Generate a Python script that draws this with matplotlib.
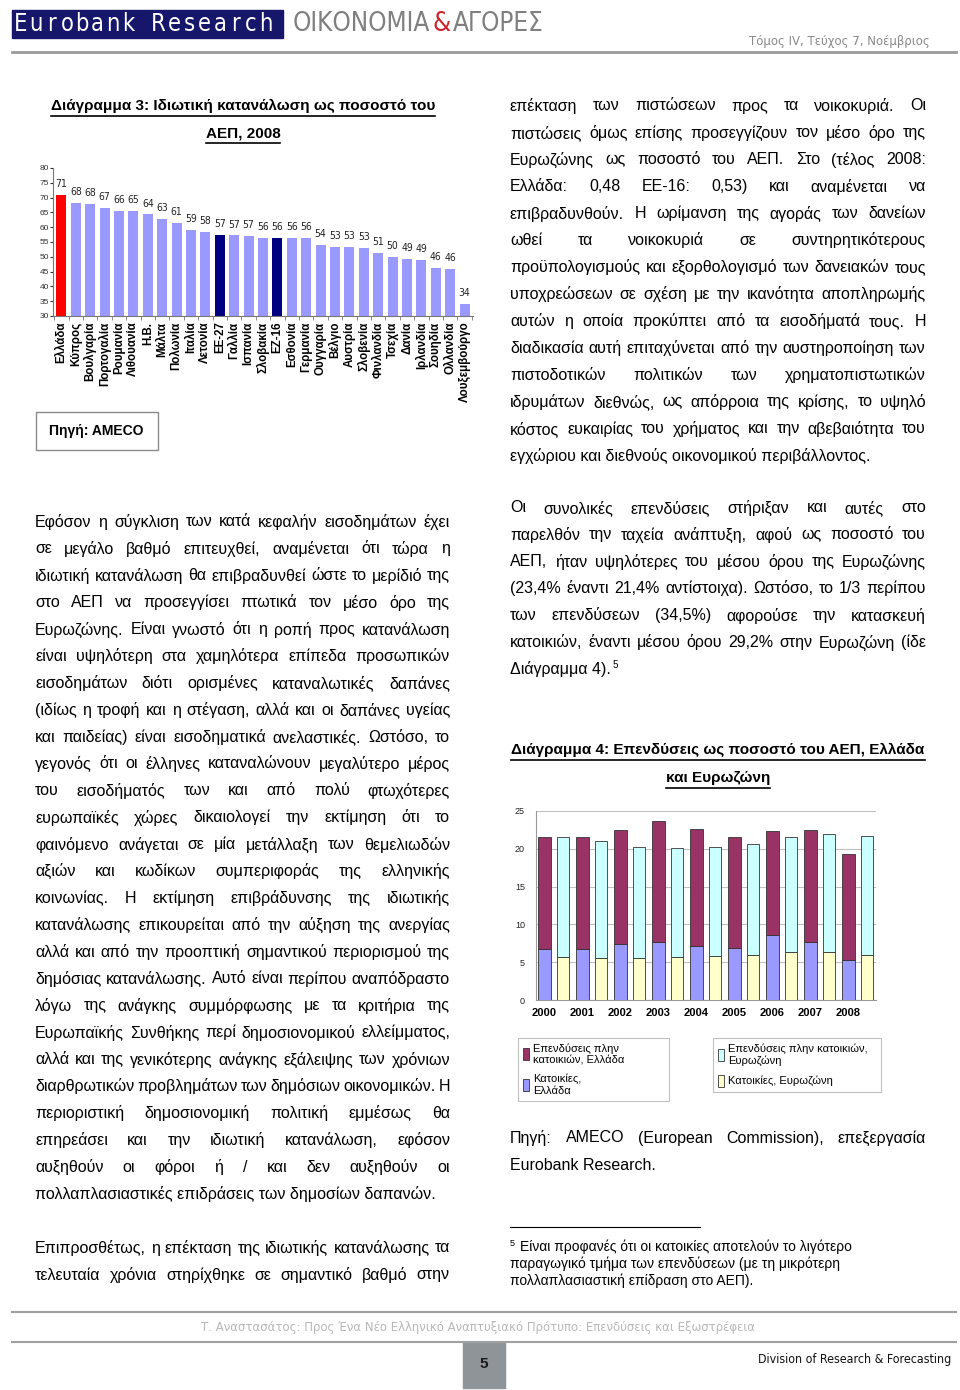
import matplotlib
matplotlib.use("Agg")
import matplotlib.pyplot as plt
from matplotlib.patches import Rectangle
from matplotlib.lines import Line2D
from matplotlib import font_manager
import numpy as np

plt.rcParams['font.family'] = ['Liberation Sans', 'DejaVu Sans']

W, H = 960, 1390

# Diagram 3: private consumption as % of GDP, 2008
countries = ["Ελλάδα", "Κύπρος", "Βουλγαρία", "Πορτογαλία", "Ρουμανία", "Λιθουανία",
             "Η.Β.", "Μάλτα", "Πολωνία", "Ιταλία", "Λετονία", "ΕΕ-27", "Γαλλία",
             "Ισπανία", "Σλοβακία", "ΕΖ-16", "Εσθονία", "Γερμανία", "Ουγγαρία",
             "Βέλγιο", "Αυστρία", "Σλοβενία", "Φινλανδία", "Τσεχία", "Δανία",
             "Ιρλανδία", "Σουηδία", "Ολλανδία", "Λουξεμβούργο"]
consumption = [71.0, 68.2, 68.0, 66.6, 65.6, 65.4, 64.3, 62.7, 61.4, 59.0, 58.3, 57.4,
               57.2, 57.1, 56.4, 56.4, 56.3, 56.3, 54.1, 53.4, 53.2, 53.1, 51.4, 49.8,
               49.3, 48.9, 46.2, 45.9, 34.2]
red_bars = ["Ελλάδα"]
navy_bars = ["ΕΕ-27", "ΕΖ-16"]

# Diagram 4: investment as % of GDP, Greece and Euro area
years = ["2000", "2001", "2002", "2003", "2004", "2005", "2006", "2007", "2008"]
gr_housing = [6.8, 6.7, 7.4, 7.7, 7.2, 6.9, 8.6, 7.7, 5.3]
gr_total = [21.6, 21.6, 22.5, 23.7, 22.6, 21.6, 22.4, 22.5, 19.3]
ez_housing = [5.7, 5.6, 5.5, 5.7, 5.8, 6.0, 6.3, 6.4, 6.0]
ez_total = [21.5, 21.0, 20.3, 20.1, 20.3, 20.7, 21.5, 21.9, 21.7]

installed = {f.name for f in font_manager.fontManager.ttflist}
if 'Liberation Sans Narrow' in installed:
    narrow = dict(family=['Liberation Sans Narrow', 'DejaVu Sans'])
    nscale = 1.0
else:
    narrow = dict(family=['DejaVu Sans'], fontstretch='condensed')
    nscale = 0.85

fig = plt.figure(figsize=(9.6, 13.9), dpi=100)
renderer = fig.canvas.get_renderer()


def fx(x):
    return x / W


def fy(y):
    return 1 - y / H


def txt(x, y, s, **kw):
    kw.setdefault('va', 'center')
    return fig.text(fx(x), fy(y), s, **kw)


def underline(t, color='black', off=3):
    bb = t.get_window_extent(renderer)
    fig.add_artist(Line2D([bb.x0 / W, bb.x1 / W], [(bb.y0 - off) / H] * 2,
                          color=color, lw=1.2, transform=fig.transFigure))


def paragraph(lines, x0, x1, y0, step, size=11.5):
    objs = []
    for i, line in enumerate(lines):
        y = y0 + i * step
        words = line.split()
        if i == len(lines) - 1 or len(words) == 1:
            objs.append(txt(x0, y, line, fontsize=size))
            continue
        parts = [txt(0, y, w, fontsize=size) for w in words]
        widths = [p.get_window_extent(renderer).width for p in parts]
        gap = (x1 - x0 - sum(widths)) / (len(words) - 1)
        x = x0
        for p, w in zip(parts, widths):
            p.set_x(fx(x))
            x += w + gap
        objs.append(parts[-1])
    return objs


def rect(x0, y0, x1, y1, **kw):
    fig.add_artist(Rectangle((fx(x0), fy(y1)), (x1 - x0) / W, (y1 - y0) / H,
                             transform=fig.transFigure, **kw))


# header
rect(12, 10, 283, 38, color='#16166b')
brand = "Eurobank Research"
for i, ch in enumerate(brand):
    txt(21 + i * 15.3, 24, ch, color='white', fontsize=20 * nscale, ha='center', **narrow)
hs = 22 * nscale
t = txt(293, 24, "ΟΙΚΟΝΟΜΙΑ", color='#7f7f7f', fontsize=hs, **narrow)
xe = t.get_window_extent(renderer).x1
t2 = txt(xe + 2, 24, "&", color='#d0202a', fontsize=hs, **narrow)
xe = t2.get_window_extent(renderer).x1
txt(xe + 2, 24, "ΑΓΟΡΕΣ", color='#7f7f7f', fontsize=hs, **narrow)
txt(930, 41, "Τόμος IV, Τεύχος 7, Νοέμβριος", color='#8a8a8a', fontsize=11 * nscale,
    ha='right', **narrow)
fig.add_artist(Line2D([fx(12), fx(956)], [fy(52)] * 2, color='#9a9a9a', lw=2,
                      transform=fig.transFigure))

# diagram 3 title
t = txt(243, 106, "Διάγραμμα 3: Ιδιωτική κατανάλωση ως ποσοστό του", fontsize=11,
        weight='bold', ha='center')
underline(t)
t = txt(243, 133, "ΑΕΠ, 2008", fontsize=11, weight='bold', ha='center')
underline(t)

ax3 = fig.add_axes([fx(53), fy(316), (473 - 53) / W, (316 - 168) / H])
colors3 = ['#ff0000' if c in red_bars else '#000080' if c in navy_bars else '#9999ff'
           for c in countries]
x3 = np.arange(len(countries))
ax3.bar(x3, [v - 30 for v in consumption], bottom=30, width=0.7, color=colors3)
for xi, v in zip(x3, consumption):
    ax3.text(xi, v + 2.0, f"{v:.0f}", ha='center', va='bottom', fontsize=7.5,
             color='#222222', **narrow)
ax3.set_ylim(30, 80)
ax3.set_xlim(-0.58, len(countries) - 0.42)
ax3.set_yticks(range(30, 81, 5))
ax3.tick_params(axis='y', labelsize=6, length=2, pad=1, colors='#333333')
ax3.set_xticks(x3)
ax3.set_xticklabels(countries, rotation=90, fontsize=8.3, weight='bold')
ax3.set_xticks(np.arange(-0.5, len(countries), 1), minor=True)
ax3.tick_params(axis='x', which='major', length=0, pad=4)
ax3.tick_params(axis='x', which='minor', length=3, color='#777777')
for s in ['top', 'right']:
    ax3.spines[s].set_visible(False)
for s in ['left', 'bottom']:
    ax3.spines[s].set_color('#777777')
    ax3.spines[s].set_linewidth(0.8)

rect(36, 412, 158, 450, fill=False, edgecolor='#8a8a8a', lw=1)
txt(49, 431, "Πηγή: AMECO", fontsize=10, weight='bold')

# right column top text
right_top = [
    "επέκταση των πιστώσεων προς τα νοικοκυριά. Οι",
    "πιστώσεις όμως επίσης προσεγγίζουν τον μέσο όρο της",
    "Ευρωζώνης ως ποσοστό του ΑΕΠ. Στο (τέλος 2008:",
    "Ελλάδα: 0,48 ΕΕ-16: 0,53) και αναμένεται να",
    "επιβραδυνθούν. Η ωρίμανση της αγοράς των δανείων",
    "ωθεί τα νοικοκυριά σε συντηρητικότερους",
    "προϋπολογισμούς και εξορθολογισμό των δανειακών τους",
    "υποχρεώσεων σε σχέση με την ικανότητα αποπληρωμής",
    "αυτών η οποία προκύπτει από τα εισοδήματά τους. Η",
    "διαδικασία αυτή επιταχύνεται από την αυστηροποίηση των",
    "πιστοδοτικών πολιτικών των χρηματοπιστωτικών",
    "ιδρυμάτων διεθνώς, ως απόρροια της κρίσης, το υψηλό",
    "κόστος ευκαιρίας του χρήματος και την αβεβαιότητα του",
    "εγχώριου και διεθνούς οικονομικού περιβάλλοντος.",
]
paragraph(right_top, 510, 926, 106, 26.9)

left_main = [
    "Εφόσον η σύγκλιση των κατά κεφαλήν εισοδημάτων έχει",
    "σε μεγάλο βαθμό επιτευχθεί, αναμένεται ότι τώρα η",
    "ιδιωτική κατανάλωση θα επιβραδυνθεί ώστε το μερίδιό της",
    "στο ΑΕΠ να προσεγγίσει πτωτικά τον μέσο όρο της",
    "Ευρωζώνης. Είναι γνωστό ότι η ροπή προς κατανάλωση",
    "είναι υψηλότερη στα χαμηλότερα επίπεδα προσωπικών",
    "εισοδημάτων διότι ορισμένες καταναλωτικές δαπάνες",
    "(ιδίως η τροφή και η στέγαση, αλλά και οι δαπάνες υγείας",
    "και παιδείας) είναι εισοδηματικά ανελαστικές. Ωστόσο, το",
    "γεγονός ότι οι έλληνες καταναλώνουν μεγαλύτερο μέρος",
    "του εισοδήματός των και από πολύ φτωχότερες",
    "ευρωπαϊκές χώρες δικαιολογεί την εκτίμηση ότι το",
    "φαινόμενο ανάγεται σε μία μετάλλαξη των θεμελιωδών",
    "αξιών και κωδίκων συμπεριφοράς της ελληνικής",
    "κοινωνίας. Η εκτίμηση επιβράδυνσης της ιδιωτικής",
    "κατανάλωσης επικουρείται από την αύξηση της ανεργίας",
    "αλλά και από την προοπτική σημαντικού περιορισμού της",
    "δημόσιας κατανάλωσης. Αυτό είναι περίπου αναπόδραστο",
    "λόγω της ανάγκης συμμόρφωσης με τα κριτήρια της",
    "Ευρωπαϊκής Συνθήκης περί δημοσιονομικού ελλείμματος,",
    "αλλά και της γενικότερης ανάγκης εξάλειψης των χρόνιων",
    "διαρθρωτικών προβλημάτων των δημόσιων οικονομικών. Η",
    "περιοριστική δημοσιονομική πολιτική εμμέσως θα",
    "επηρεάσει και την ιδιωτική κατανάλωση, εφόσον",
    "αυξηθούν οι φόροι ή / και δεν αυξηθούν οι",
    "πολλαπλασιαστικές επιδράσεις των δημοσίων δαπανών.",
]
paragraph(left_main, 35, 450, 522, 26.88)
left_end = [
    "Επιπροσθέτως, η επέκταση της ιδιωτικής κατανάλωσης τα",
    "τελευταία χρόνια στηρίχθηκε σε σημαντικό βαθμό στην",
    "",
]
paragraph(left_end, 35, 450, 1248, 27)

right_mid = [
    "Οι συνολικές επενδύσεις στήριξαν και αυτές στο",
    "παρελθόν την ταχεία ανάπτυξη, αφού ως ποσοστό του",
    "ΑΕΠ, ήταν υψηλότερες του μέσου όρου της Ευρωζώνης",
    "(23,4% έναντι 21,4% αντίστοιχα). Ωστόσο, το 1/3 περίπου",
    "των επενδύσεων (34,5%) αφορούσε την κατασκευή",
    "κατοικιών, έναντι μέσου όρου 29,2% στην Ευρωζώνη (ίδε",
    "Διάγραμμα 4).",
]
objs = paragraph(right_mid, 510, 926, 508, 26.9)
xe = objs[-1].get_window_extent(renderer).x1
txt(xe + 2, 665, "5", fontsize=7)

# diagram 4 title
t = txt(718, 750, "Διάγραμμα 4: Επενδύσεις ως ποσοστό του ΑΕΠ, Ελλάδα", fontsize=11,
        weight='bold', ha='center')
underline(t)
t = txt(718, 778, "και Ευρωζώνη", fontsize=11, weight='bold', ha='center')
underline(t)

ax4 = fig.add_axes([fx(536), fy(1000), (876 - 536) / W, (1000 - 811) / H])
xg = np.arange(len(years))
gr_other = [t_ - h for t_, h in zip(gr_total, gr_housing)]
ez_other = [t_ - h for t_, h in zip(ez_total, ez_housing)]
bw = 0.33
ek = dict(edgecolor='#333333', linewidth=0.6, zorder=3)
b1 = ax4.bar(xg, gr_housing, width=bw, color='#9999ff', **ek)
b2 = ax4.bar(xg, gr_other, bottom=gr_housing, width=bw, color='#993366', **ek)
b3 = ax4.bar(xg + 0.49, ez_housing, width=bw, color='#ffffcc', **ek)
b4 = ax4.bar(xg + 0.49, ez_other, bottom=ez_housing, width=bw, color='#ccffff', **ek)
ax4.set_ylim(0, 25)
ax4.set_xlim(-0.22, len(years) - 1 + 0.49 + 0.24)
ax4.set_yticks(range(0, 26, 5))
ax4.grid(axis='y', color='#c0c0c0', lw=0.8, zorder=0)
ax4.set_axisbelow(True)
ax4.set_xticks(xg)
ax4.set_xticklabels(years, fontsize=8, weight='bold')
ax4.tick_params(axis='x', length=0, pad=6)
ax4.tick_params(axis='y', labelsize=6.5, length=0, pad=8, colors='#222222')
for s in ['top', 'right']:
    ax4.spines[s].set_visible(False)
for s in ['left', 'bottom']:
    ax4.spines[s].set_color('#9a9a9a')
    ax4.spines[s].set_linewidth(0.8)

legkw = dict(loc='upper left', mode='expand', bbox_transform=fig.transFigure,
             fontsize=8, handlelength=0.55, handleheight=1.3, handletextpad=0.35,
             labelspacing=0.8, borderaxespad=0, fancybox=False, edgecolor='#c0c0c0',
             framealpha=1, borderpad=0.45)
leg1 = ax4.legend([b2, b1], ["Επενδύσεις πλην\nκατοικιών, Ελλάδα", "Κατοικίες,\nΕλλάδα"],
                  bbox_to_anchor=(fx(518), fy(1102), 151 / W, 64 / H), **legkw)
leg1.get_frame().set_linewidth(0.8)
ax4.add_artist(leg1)
leg2 = ax4.legend([b4, b3], ["Επενδύσεις πλην κατοικιών,\nΕυρωζώνη", "Κατοικίες, Ευρωζώνη"],
                  bbox_to_anchor=(fx(713), fy(1102), 168 / W, 64 / H), **legkw)
leg2.get_frame().set_linewidth(0.8)

paragraph(["Πηγή: AMECO (European Commission), επεξεργασία", "Eurobank Research."],
          510, 926, 1138, 27)

# footnote
fig.add_artist(Line2D([fx(510), fx(700)], [fy(1227)] * 2, color='black', lw=0.8,
                      transform=fig.transFigure))
txt(510, 1243, "5", fontsize=6.5)
txt(520, 1247, "Είναι προφανές ότι οι κατοικίες αποτελούν το λιγότερο", fontsize=10)
txt(510, 1264, "παραγωγικό τμήμα των επενδύσεων (με τη μικρότερη", fontsize=10)
txt(510, 1281, "πολλαπλασιαστική επίδραση στο ΑΕΠ).", fontsize=10)

# footer
fig.add_artist(Line2D([fx(12), fx(956)], [fy(1312)] * 2, color='#a0a0a0', lw=1.5,
                      transform=fig.transFigure))
txt(478, 1328, "Τ. Αναστασάτος: Προς Ένα Νέο Ελληνικό Αναπτυξιακό Πρότυπο: "
    "Επενδύσεις και Εξωστρέφεια", fontsize=11 * nscale, color='#b8b8b8', ha='center',
    **narrow)
fig.add_artist(Line2D([fx(12), fx(956)], [fy(1342)] * 2, color='#a0a0a0', lw=1.5,
                      transform=fig.transFigure))
rect(463, 1342, 505, 1388, color='#8e9497')
txt(484, 1364, "5", fontsize=11, weight='bold', ha='center', color='#1a1a1a')
txt(951, 1360, "Division of Research & Forecasting", fontsize=10.5 * nscale, ha='right',
    color='#111111', **narrow)

fig.savefig("out.png", dpi=100)
